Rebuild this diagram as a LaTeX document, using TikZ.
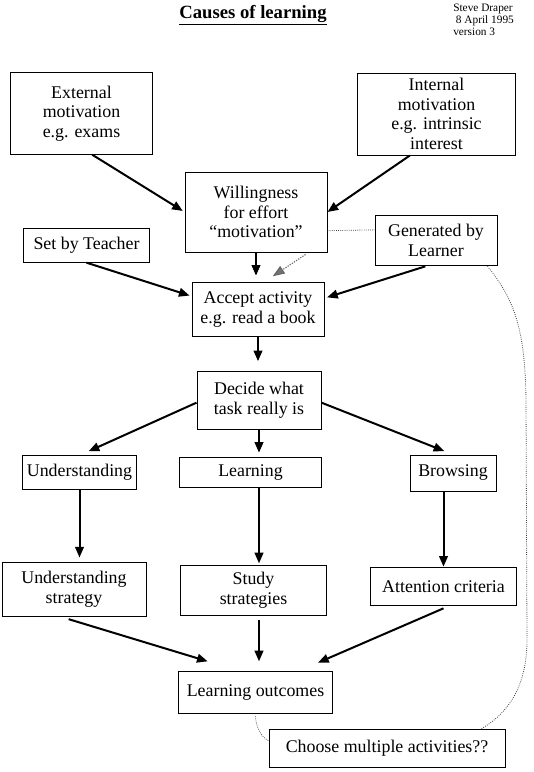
\documentclass[tikz,border=0pt]{standalone}
\usepackage{fontspec}
\setmainfont{Liberation Serif}
\usepackage{tikz}
\usetikzlibrary{arrows.meta}
\tikzset{box/.style={draw, line width=0.75pt, align=center, inner sep=0pt, font=\fontsize{13.4}{14.8}\selectfont},
  arr/.style={line width=1.5pt, -{Triangle[length=8pt,width=6.5pt]}},
  faint/.style={line width=0.6pt, densely dotted, black!75}}

\begin{document}
\begin{tikzpicture}[x=0.75pt,y=-0.75pt]
\useasboundingbox (0,0) rectangle (534,772);
\node[font=\fontsize{14}{16}\selectfont] (title) at (253,15) {\underline{\textbf{Causes of learning}}};
\node[anchor=north west, align=left, inner sep=0pt, font=\fontsize{8.5}{8.8}\selectfont] (info) at (453,4) {Steve Draper\\\hspace{2pt}8 April 1995\\version 3};
\node[box, minimum width=107pt, minimum height=61pt] (ext) at (81.5,113.5) {External\\motivation\\e.g. exams};
\node[box, minimum width=118pt, minimum height=61.5pt] (int) at (436.5,114) {Internal\\motivation\\e.g. intrinsic\\interest};
\node[box, minimum width=106.5pt, minimum height=60pt] (will) at (256,212) {Willingness\\for effort\\``motivation''};
\node[box, minimum width=95pt, minimum height=25pt] (set) at (86.5,245.5) {Set by Teacher};
\node[box, minimum width=91.5pt, minimum height=38pt] (gen) at (436,240.5) {Generated by\\Learner};
\node[box, minimum width=99pt, minimum height=40pt] (acc) at (258,309.5) {Accept activity\\e.g. read a book};
\node[box, minimum width=93pt, minimum height=43.5pt] (dec) at (259,400) {Decide what\\task really is};
\node[box, minimum width=86pt, minimum height=25pt] (und) at (79.5,472.5) {Understanding};
\node[box, minimum width=106pt, minimum height=23pt] (lrn) at (250.5,472.5) {Learning};
\node[box, minimum width=64.5pt, minimum height=27pt] (brw) at (453,473) {Browsing};
\node[box, minimum width=108pt, minimum height=40.5pt] (ust) at (74,589) {Understanding\\strategy};
\node[box, minimum width=110pt, minimum height=37pt] (std) at (253.5,590.5) {Study\\strategies};
\node[box, minimum width=109pt, minimum height=29pt] (att) at (443.5,586.5) {Attention criteria};
\node[box, minimum width=115pt, minimum height=32pt] (out) at (255.5,692.5) {Learning outcomes};
\node[box, minimum width=177pt, minimum height=29pt] (cho) at (387,748.5) {Choose multiple activities??};
% motivation
\draw[arr, shorten >=1.5pt] ([xshift=8pt]ext.south) -- (will.west);
\draw[arr] ([xshift=-20pt]int.south) -- (will.east);
\draw[arr, shorten >=5pt] (will.south) -- (will.south |- acc.north);
\draw[arr, shorten >=1.5pt] (set.south) -- ([yshift=10pt]acc.west);
\draw[arr, shorten >=2pt] ([xshift=-8pt]gen.south) -- ([yshift=8.5pt]acc.east);
\draw[faint] ([yshift=-14pt]will.east) -- ([yshift=8pt]gen.west);
\draw[black!60, line width=0.9pt, densely dotted, -{Triangle[length=9pt,width=6.5pt,fill=black!55,color=black!60]}] ([xshift=-16.5pt,yshift=-1.5pt]will.south east) -- ([xshift=11pt,yshift=4.5pt]acc.north);
% task
\draw[arr, shorten >=7pt] (acc.south) -- (acc.south |- dec.north);
\draw[arr, shorten >=7.5pt] ([yshift=-2pt]dec.west) -- (und.north);
\draw[arr, shorten >=3pt] (dec.south) -- (dec.south |- lrn.north);
\draw[arr, shorten >=7pt] ([yshift=-2pt]dec.east) -- (brw.north);
% strategies
\draw[arr, shorten >=3pt] (und.south) -- (und.south |- ust.north);
\draw[arr, shorten >=1.5pt] (lrn.south -| dec.south) -- (dec.south |- std.north);
\draw[arr] (brw.south -| att.south) -- (att.north);
\draw[arr] ([xshift=-4pt,yshift=-2pt]ust.south) -- ([xshift=22pt,yshift=7pt]out.north west);
\draw[arr, shorten >=7pt] ([yshift=-3pt]std.south -| dec.south) -- (dec.south |- out.north);
\draw[arr] ([yshift=-1.5pt]att.south) -- ([xshift=-11pt,yshift=6pt]out.north east);
% dotted links to the last box
\draw[faint] ([xshift=-7.5pt]gen.south east) .. controls (515,300) and (525,330) .. (526,400) -- (527,640) .. controls (527,690) and (505,715) .. ([xshift=-18pt]cho.north east);
\draw[faint] ([yshift=-1.5pt]out.south) .. controls (256,728) and (262,738) .. ([yshift=6pt]cho.west);
\end{tikzpicture}
\end{document}
